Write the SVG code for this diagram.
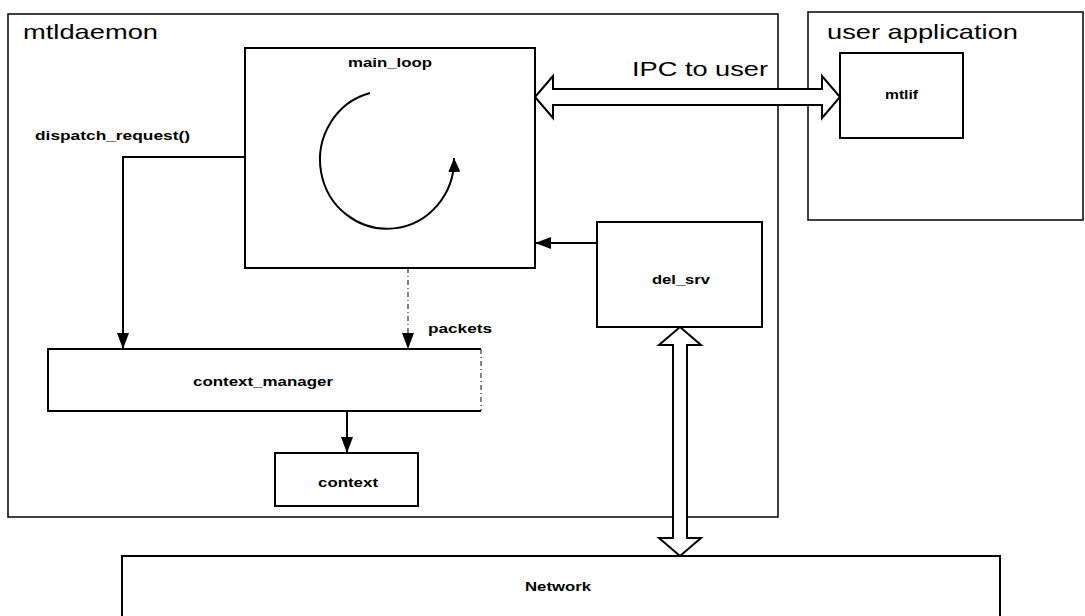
<svg xmlns="http://www.w3.org/2000/svg" width="1085" height="616" viewBox="0 0 1085 616">
<style>
.box{fill:none;stroke:#000;stroke-width:2}
.cont{fill:none;stroke:#111;stroke-width:1.6}
.big{font-family:"Liberation Sans",Arial,sans-serif;font-size:21px;fill:#000}
.lbl{font-family:"Liberation Sans",Arial,sans-serif;font-size:13px;font-weight:bold;fill:#000}
.con{fill:none;stroke:#000;stroke-width:2}
.dash{fill:none;stroke:#333;stroke-width:1.2;stroke-dasharray:5 3 1 3}
.fat{fill:#fff;stroke:#000;stroke-width:2;stroke-linejoin:miter}
</style>
<defs>
<marker id="ah" markerUnits="userSpaceOnUse" markerWidth="16" markerHeight="12" refX="16" refY="6" orient="auto">
<path d="M0,0 L16,6 L0,12 z" fill="#000"/>
</marker>
<marker id="ahs" markerUnits="userSpaceOnUse" markerWidth="14" markerHeight="12" refX="14" refY="6" orient="auto">
<path d="M0,0 L14,6 L0,12 z" fill="#000"/>
</marker>
</defs>
<rect x="0" y="0" width="1085" height="616" fill="#fff"/>

<g id="mtldaemon">
<rect class="cont" x="8" y="14" width="770" height="503"/>
<text class="big" x="23" y="39" textLength="135" lengthAdjust="spacingAndGlyphs">mtldaemon</text>
</g>

<g id="user_application">
<rect class="cont" x="808" y="12" width="275" height="208"/>
<text class="big" x="827" y="39" textLength="191" lengthAdjust="spacingAndGlyphs">user application</text>
</g>

<g id="main_loop">
<rect class="box" x="245" y="48" width="290" height="220"/>
<text class="lbl" x="348" y="67" textLength="84" lengthAdjust="spacingAndGlyphs">main_loop</text>
</g>

<g id="mtlif">
<rect class="box" x="840" y="53" width="123" height="85"/>
<text class="lbl" x="885" y="99" textLength="33" lengthAdjust="spacingAndGlyphs">mtlif</text>
</g>

<g id="del_srv">
<rect class="box" x="597" y="222" width="165" height="105"/>
<text class="lbl" x="652" y="284" textLength="58" lengthAdjust="spacingAndGlyphs">del_srv</text>
</g>

<g id="context_manager">
<path class="box" d="M481,349 L48,349 L48,411 L481,411"/>
<path class="dash" d="M481,349 L481,411"/>
<text class="lbl" x="193" y="386" textLength="140" lengthAdjust="spacingAndGlyphs">context_manager</text>
</g>

<g id="context">
<rect class="box" x="275" y="453" width="143" height="53"/>
<text class="lbl" x="318" y="487" textLength="60" lengthAdjust="spacingAndGlyphs">context</text>
</g>

<g id="network">
<path class="box" d="M122,620 L122,556 L1000,556 L1000,620"/>
<text class="lbl" x="525" y="591" textLength="66" lengthAdjust="spacingAndGlyphs">Network</text>
</g>

<g id="connectors">
<path class="con" d="M245,157 L123,157 L123,349" marker-end="url(#ah)"/>
<path class="dash" d="M408,268 L408,349" marker-end="url(#ah)"/>
<path class="con" d="M347,411 L347,453" marker-end="url(#ah)"/>
<path class="con" d="M597,243 L535,243" marker-end="url(#ah)"/>
<path class="con" d="M370,93 A67 69 0 1 0 454,158" marker-end="url(#ahs)"/>
<polygon class="fat" points="535,97 553,76 553,89 822,89 822,76 840,97 822,118 822,105 553,105 553,118"/>
<polygon class="fat" points="680,327 701,345 687,345 687,538 701,538 680,556 659,538 673,538 673,345 659,345"/>
<text class="big" x="632" y="76" textLength="136" lengthAdjust="spacingAndGlyphs">IPC to user</text>
<text class="lbl" x="35" y="140" textLength="155" lengthAdjust="spacingAndGlyphs">dispatch_request()</text>
<text class="lbl" x="428" y="333" textLength="64" lengthAdjust="spacingAndGlyphs">packets</text>
</g>
</svg>
